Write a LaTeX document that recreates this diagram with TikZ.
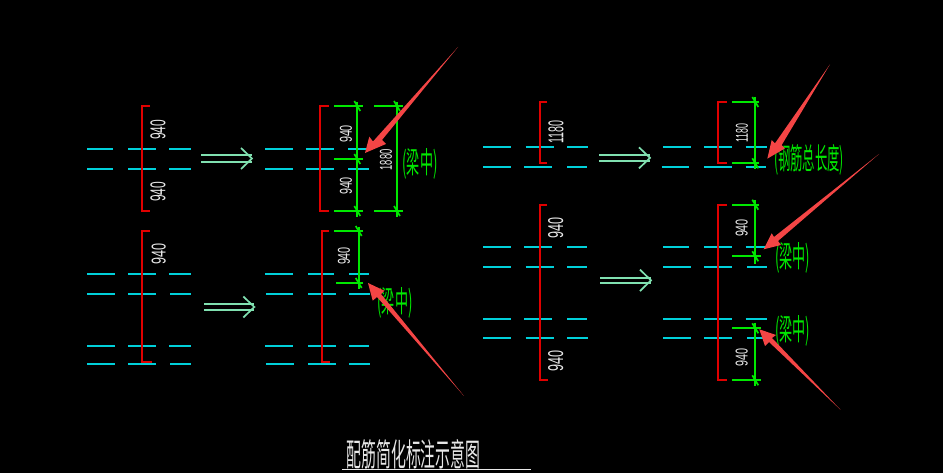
\documentclass[tikz,border=0pt]{standalone}
\usepackage{graphicx}
\usepackage{fontspec}
\setmainfont{Liberation Sans}
\newfontfamily\cjk{Noto Sans CJK SC}
\definecolor{cy}{HTML}{00D0DA}
\definecolor{gr}{HTML}{00E800}
\definecolor{br}{HTML}{E00000}
\definecolor{ar}{HTML}{F44545}
\definecolor{dbl}{HTML}{80E0B0}
\definecolor{tx}{HTML}{E8E8E8}
\tikzset{
  cyanline/.style={draw=cy,line width=1.8bp},
  bracket/.style={draw=br,line width=1.8bp},
  dimline/.style={draw=gr,line width=1.7bp},
  dblarrow/.style={draw=dbl,line width=1.7bp},
  redarrow/.style={fill=ar,draw=none},
  vlabel/.style={text=tx,inner sep=0,rotate=90},
  gnote/.style={text=gr,inner sep=0},
}
% rows of beam lines: y; list of x-a/x-b
\newcommand{\rowlines}[2]{\foreach \a/\b in {#2}{\draw[cyanline] (\a,#1) -- (\b,#1);}}
% bracket: x, y top, y bottom, tick x top, tick x bottom
\newcommand{\redbr}[5]{\draw[bracket] (#4,#2) -- (#1,#2) -- (#1,#3) -- (#5,#3);}
% double arrow: x1, x2 (tip), y1, y2, head dx, head half height
\newcommand{\dblarr}[6]{%
  \draw[dblarrow] (#1,#3) -- (#2,#3);
  \draw[dblarrow] (#1,#4) -- (#2,#4);
  \draw[dblarrow] ({#2-#5},{(#3+#4)/2-#6}) -- (#2,{(#3+#4)/2}) -- ({#2-#5},{(#3+#4)/2+#6});}
% dim tick
\newcommand{\dtick}[2]{\draw[dimline] ({#1-3},{#2-5}) -- ({#1+3},{#2+5});}
% extension line: x1, x2, y
\newcommand{\ext}[3]{\draw[dimline] (#1,#3) -- (#2,#3);}
\newcommand{\lab}[3]{\resizebox{#1bp}{#2bp}{#3}}
\begin{document}
\begin{tikzpicture}[x=1bp,y=-1bp]
\useasboundingbox (0,0) rectangle (943,473);
\fill[black] (0,0) rectangle (943,473);
% ---- group A left
\rowlines{148.7}{87/113,128/156,169/191}
\rowlines{168.7}{87/113,128/156,169/191}
\redbr{141.7}{106}{211}{150}{150}
\node[vlabel] (a1) at (158,130) {\lab{20}{15}{940}};
\node[vlabel] (a2) at (158,192) {\lab{20}{15}{940}};
\dblarr{201}{252}{155}{162}{11}{10.5}
% group A right
\rowlines{148.7}{265/293,306/334,348/367}
\rowlines{168.7}{265/293,306/334,348/369}
\redbr{320}{106}{211}{329}{329}
\draw[dimline] (357.3,102) -- (357.3,217);
\draw[dimline] (397,102) -- (397,217);
\ext{334}{363}{106}\ext{334}{363}{159}\ext{334}{363}{211}
\ext{374}{403}{106}\ext{374}{403}{211}
\dtick{357.3}{106}\dtick{357.3}{159}\dtick{357.3}{211}
\dtick{397}{106}\dtick{397}{211}
\node[vlabel] (a3) at (346,134) {\lab{18}{12}{940}};
\node[vlabel] (a4) at (346,186) {\lab{18}{12}{940}};
\node[vlabel] (a5) at (386,160) {\lab{21}{12}{1880}};
\node[gnote] (a6) at (420,164) {\lab{35}{25}{\cjk (梁中)}};
% ---- group B left
\rowlines{273.7}{87/115,128/156,169/191}
\rowlines{293.7}{87/115,128/156,170/191}
\rowlines{345.7}{87/115,128/156,169/191}
\rowlines{364.3}{87/115,128/156,170/191}
\redbr{141.7}{231}{361.7}{150}{152}
\node[vlabel] (b1) at (158.7,254) {\lab{21}{14}{940}};
\dblarr{204}{254.3}{304.3}{309.7}{11}{10.5}
% group B right
\rowlines{273.7}{265/293,308/334,349/369}
\rowlines{293.7}{266/293,308/336,349/370}
\rowlines{345.7}{265/293,308/336,349/369}
\rowlines{364.3}{266/294,308/336,349/370}
\redbr{321.7}{231}{361.7}{329}{330}
\draw[dimline] (358.7,227) -- (358.7,289);
\ext{334}{363}{231}\ext{336}{363}{283}
\dtick{358.7}{231}\dtick{358.7}{283}
\node[vlabel] (b2) at (344,256) {\lab{18}{12}{940}};
\node[gnote] (b3) at (395,303) {\lab{35}{25}{\cjk (梁中)}};
% ---- group C left
\rowlines{147.3}{483/511,525.7/553.7,567/588}
\rowlines{167.3}{483/511,524/552,567/587}
\redbr{539.7}{102}{163.3}{547}{547}
\node[vlabel] (c1) at (556,132) {\lab{23}{15}{1180}};
\dblarr{599}{650}{155}{160.7}{11}{10.5}
% group C right
\rowlines{147.3}{663/690.7,704/732,745.7/767}
\rowlines{167.3}{661.7/689,704/732,745.7/765.7}
\redbr{718}{102}{163.3}{726.7}{726.7}
\draw[dimline] (755.3,96.7) -- (755.3,169);
\ext{732}{759}{102}\ext{732}{759}{163.3}
\dtick{755.3}{102}\dtick{755.3}{163.3}
\node[vlabel] (c2) at (742,133) {\lab{19}{12}{1180}};
\node[gnote] (c3) at (809,160) {\lab{70}{25}{\cjk (钢筋总长度)}};
% ---- group D left
\rowlines{247}{483/511,524/552,567/587}
\rowlines{267}{483/511,525.7/553.7,567/587}
\rowlines{319}{483/511,524/552,567/587}
\rowlines{337.7}{483/511,525.7/553.7,567/588}
\redbr{539.7}{204.7}{380.3}{547}{548}
\node[vlabel] (d1) at (555.7,228) {\lab{21}{15}{940}};
\node[vlabel] (d2) at (555.7,360.7) {\lab{21}{15}{940}};
\dblarr{600}{651}{277.7}{283}{11}{10.7}
% group D right
\rowlines{247}{663/689,704/732,745.7/765.7}
\rowlines{267}{663/691,704/732,747/767}
\rowlines{319}{663/691,704/732,745.7/767}
\rowlines{337.7}{663/691,704/732,747/765.7}
\redbr{718}{204.7}{380.3}{726.7}{726.7}
\draw[dimline] (755.3,200) -- (755.3,264);
\draw[dimline] (755.3,322.7) -- (755.3,385.7);
\ext{732}{759}{204.7}\ext{732}{761}{256.3}\ext{732}{761}{328.3}\ext{732}{761}{380.3}
\dtick{755.3}{204.7}\dtick{755.3}{256.3}\dtick{755.3}{328.3}\dtick{755.3}{380.3}
\node[vlabel] (d3) at (741.7,228) {\lab{18}{12}{940}};
\node[vlabel] (d4) at (741.7,357) {\lab{18}{12}{940}};
\node[gnote] (d5) at (792.7,257.7) {\lab{35}{25}{\cjk (梁中)}};
\node[gnote] (d6) at (792.7,331) {\lab{35}{25}{\cjk (梁中)}};
% ---- big red arrows: tail, inner, wing, tip, wing, inner
\fill[redarrow] (458,47) -- (382,140) -- (386,144) -- (365,153) -- (369.3,136.7) -- (373,141.5) -- cycle;
\fill[redarrow] (464,396) -- (377,297) -- (372.7,300.7) -- (368,283) -- (384.3,290.7) -- (381,294) -- cycle;
\fill[redarrow] (830,64.3) -- (781.7,145) -- (785,148.3) -- (767.3,158.7) -- (771.7,140) -- (775,143.3) -- cycle;
\fill[redarrow] (879,154) -- (778,241) -- (781,245) -- (763.7,249.3) -- (771.7,233.3) -- (774,237) -- cycle;
\fill[redarrow] (840.7,410) -- (772,338) -- (776,335) -- (759.3,329.3) -- (765,346) -- (769,342) -- cycle;
% ---- title
\node[text=tx,inner sep=0] (title) at (413.5,454) {\lab{134}{27}{\cjk 配筋简化标注示意图}};
\coordinate (ula) at (342,469.3);
\coordinate (ulb) at (531,469.3);
\draw[tx,line width=1.6bp] (ula) -- (ulb);
\end{tikzpicture}
\end{document}
